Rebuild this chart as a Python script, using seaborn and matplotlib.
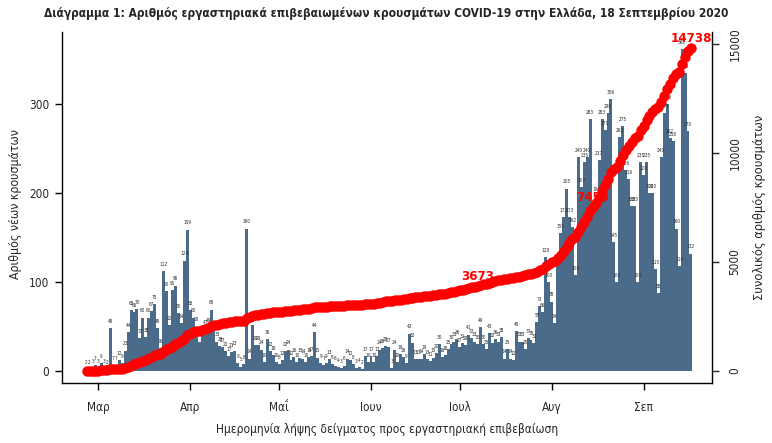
import os
import numpy as np
import pandas as pd
import matplotlib
matplotlib.use("Agg")
import matplotlib.pyplot as plt
import matplotlib.font_manager as fm
import seaborn as sns

# ---- data (daily lab-confirmed cases by sampling date) ----
start_date = "2020-02-26"
feb = [2, 2, 3, 7]
mar = [3, 9, 3, 2, 48, 7, 7, 12, 9, 23, 44, 68, 66, 70, 37, 60, 38, 60, 67, 75,
       48, 26, 112, 90, 52, 91, 96, 65, 54, 124, 159]
apr = [68, 60, 50, 33, 40, 47, 49, 69, 45, 33, 28, 27, 22, 17, 21, 23, 9, 5, 8, 160,
       14, 52, 29, 29, 24, 10, 36, 22, 18, 10]
may = [8, 12, 22, 24, 12, 16, 10, 15, 14, 10, 16, 17, 44, 15, 9, 7, 9, 13, 8, 6,
       4, 3, 6, 14, 12, 8, 3, 4, 2, 17, 10]
jun = [17, 10, 17, 24, 26, 28, 27, 3, 24, 10, 19, 16, 9, 42, 32, 13, 13, 14, 19, 13,
       11, 15, 20, 30, 16, 18, 25, 30, 33, 36]
jul = [27, 31, 29, 41, 37, 33, 30, 49, 30, 25, 43, 32, 36, 33, 38, 14, 25, 14, 12, 45,
       33, 33, 25, 37, 35, 31, 55, 73, 66, 128, 100]
aug = [78, 54, 119, 155, 173, 205, 173, 162, 108, 240, 207, 235, 240, 283, 175, 196,
       237, 283, 271, 290, 306, 145, 100, 263, 275, 226, 216, 185, 185, 100, 235]
sep = [220, 235, 200, 200, 115, 88, 240, 290, 300, 262, 258, 160, 118, 362, 335, 270, 132]

month_labels = ["Μαρ", "Απρ", "Μαΐ", "Ιουν", "Ιουλ", "Αυγ", "Σεπ"]
month_starts = ["2020-03-01", "2020-04-01", "2020-05-01", "2020-06-01",
                "2020-07-01", "2020-08-01", "2020-09-01"]
annot_dates = ["2020-07-07", "2020-08-15", "2020-09-17"]
annot_texts = ["3673", "7453", "14738"]

title = ("Διάγραμμα 1: Αριθμός εργαστηριακά επιβεβαιωμένων κρουσμάτων COVID-19 "
         "στην Ελλάδα, 18 Σεπτεμβρίου 2020")
xlabel = "Ημερομηνία λήψης δείγματος προς εργαστηριακή επιβεβαίωση"
ylabel_left = "Αριθμός νέων κρουσμάτων"
ylabel_right = "Συνολικός αριθμός κρουσμάτων"

# ---- build frame ----
daily = feb + mar + apr + may + jun + jul + aug + sep
t0 = pd.Timestamp(start_date)
ref = pd.Timestamp("2020-03-01")
dates = pd.date_range(t0, periods=len(daily), freq="D")
df = pd.DataFrame({"date": dates, "new": daily})
df["day"] = (df["date"] - ref).dt.days
df["cum"] = df["new"].cumsum()

sns.set_theme(style="ticks")
plt.rcParams["font.family"] = ["Noto Sans", "DejaVu Sans"]


# ---- locate a condensed face (regular + bold) if installed ----
def wnum(w):
    if isinstance(w, str):
        return fm.weight_dict.get(w, 400)
    return int(w)


fam_rank = {"Noto Sans": 0, "Open Sans": 1, "Roboto": 2, "DejaVu Sans": 3}
cands = []
for f in fm.fontManager.ttflist:
    b = os.path.basename(f.fname).lower()
    i = b.find("condensed")
    if i < 0 or f.style != "normal":
        continue
    pre = b[:i].rstrip("-_ ")
    if pre.endswith("extra") or pre.endswith("ultra"):
        width = 2
    elif pre.endswith("semi"):
        width = 1
    else:
        width = 0
    cands.append((fam_rank.get(f.name, 9), width, wnum(f.weight), f.fname))


def pick(target_weight):
    if not cands:
        return None
    best = min(cands, key=lambda c: (c[0], c[1], abs(c[2] - target_weight)))
    return best[3]


reg_path = pick(400)
bold_path = pick(700)


def fp(size, bold=False):
    path = bold_path if bold else reg_path
    if path:
        return fm.FontProperties(fname=path, size=size)
    return fm.FontProperties(family=["Noto Sans", "DejaVu Sans"], size=size,
                             weight="bold" if bold else "normal")


BAR = "#4a6b8a"
RED = "#ff0000"

fig = plt.figure(figsize=(7.72, 4.43), dpi=100)
ax = fig.add_axes([62 / 772, 1 - 383 / 443, 650 / 772, 351 / 443])

sns.barplot(data=df, x="day", y="new", native_scale=True, width=1.0,
            color=BAR, linewidth=0, saturation=1, ax=ax)

for d, v in zip(df["day"], df["new"]):
    ax.annotate(str(v), (d, v), xytext=(0, 3), textcoords="offset points",
                ha="center", va="bottom", color="#2a2a2a", fontproperties=fp(3.4))

ax.set_xlim(-12.3, 207.1)
ax.set_ylim(-13.5, 381)
ax.set_yticks([0, 100, 200, 300])
ax.set_yticklabels(["0", "100", "200", "300"])
tick_days = [(pd.Timestamp(m) - ref).days for m in month_starts]
ax.set_xticks(tick_days)
ax.set_xticklabels(month_labels)
ax.tick_params(axis="y", direction="out", length=5, width=1, color="black", pad=4)
ax.tick_params(axis="x", direction="out", length=5, width=1, color="black", pad=8)
for lbl in ax.get_xticklabels() + ax.get_yticklabels():
    lbl.set_fontproperties(fp(8.5))
ax.set_xlabel(xlabel, fontproperties=fp(8.5))
ax.set_ylabel(ylabel_left, fontproperties=fp(8.5))
ax.xaxis.label.set_va("center")
ax.xaxis.set_label_coords(0.5, (383 - 430) / 351)
ax.yaxis.label.set_va("center")
ax.yaxis.set_label_coords((16 - 62) / 650, 0.51)
ax.spines["top"].set_visible(False)
ax.spines["right"].set_visible(False)
for s in ["left", "bottom"]:
    ax.spines[s].set_linewidth(1)
    ax.spines[s].set_color("black")

ax2 = ax.twinx()
sns.lineplot(data=df, x="day", y="cum", color=RED, linewidth=3.5, marker="o",
             markersize=7.5, markeredgewidth=0, ax=ax2)
ax2.set_ylim(-550, 15550)
ax2.set_yticks([0, 5000, 10000, 15000])
ax2.set_yticklabels(["0", "5000", "10000", "15000"], rotation=90, va="center")
ax2.tick_params(axis="y", direction="out", length=5, width=1, pad=7)
for lbl in ax2.get_yticklabels():
    lbl.set_fontproperties(fp(8.5))
ax2.set_ylabel(ylabel_right, fontproperties=fp(8.5), rotation=90)
ax2.yaxis.label.set_va("center")
ax2.yaxis.set_label_coords((760 - 62) / 650, 0.5)
ax2.set_xlabel("")
ax2.spines["top"].set_visible(False)
ax2.spines["left"].set_visible(False)
ax2.spines["bottom"].set_visible(False)
ax2.spines["right"].set_linewidth(1)
ax2.spines["right"].set_color("black")

for dt, txt in zip(annot_dates, annot_texts):
    row = df.loc[df["date"] == pd.Timestamp(dt)].iloc[0]
    ax2.annotate(txt, (row["day"], row["cum"]), xytext=(0, 7), textcoords="offset points",
                 ha="center", va="center", color=RED, fontproperties=fp(9.5, bold=True))

ttl = fig.text(0.5, 1 - 13 / 443, title, ha="center", va="center",
               fontproperties=fp(10, bold=True))

# fit text sizes to the reference layout
renderer = fig.canvas.get_renderer()


def fit(artist, target, horizontal=True, lo=6.0, hi=12.0):
    for _ in range(3):
        bb = artist.get_window_extent(renderer)
        size = bb.width if horizontal else bb.height
        if size > 0:
            new = artist.get_fontsize() * target / size
            artist.set_fontsize(min(hi, max(lo, new)))


fit(ttl, 686, lo=7, hi=12)
fit(ax.xaxis.label, 343, lo=8, hi=10)
fit(ax.yaxis.label, 150, horizontal=False, lo=8, hi=10)
fit(ax2.yaxis.label, 187, horizontal=False, lo=8, hi=10)

fig.savefig("out.png", dpi=100)
